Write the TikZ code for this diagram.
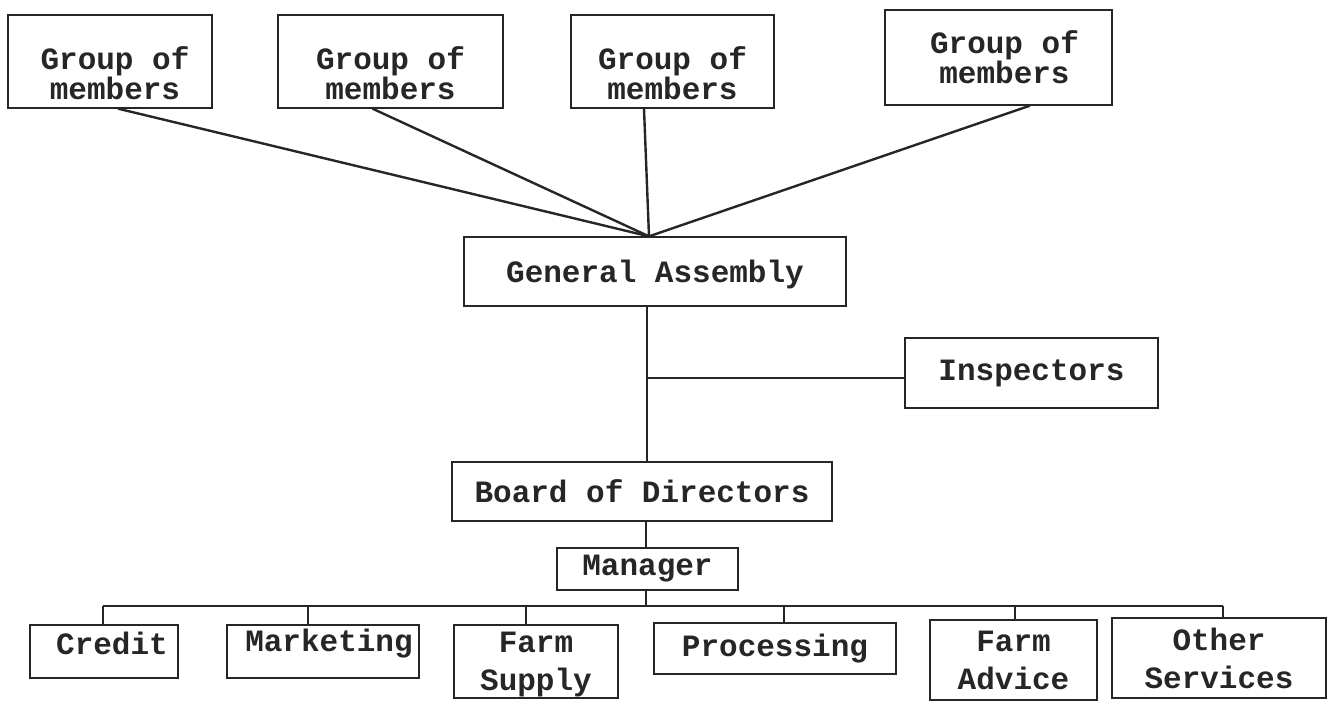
\documentclass[tikz,border=0pt]{standalone}
\usepackage{fontspec}
\setmonofont{Liberation Mono}
\usetikzlibrary{calc}
\begin{document}
\begin{tikzpicture}[x=1pt,y=-1pt,
  box/.style={draw=black!85, line width=1.3pt, inner sep=0pt},
  txt/.style={inner sep=0pt, align=center, text=black!85,
    font=\ttfamily\bfseries\fontsize{31}{27}\selectfont},
  txtwide/.style={txt, font=\ttfamily\bfseries\fontsize{31}{30}\selectfont},
  txtlow/.style={txt, font=\ttfamily\bfseries\fontsize{31}{38}\selectfont},
  fan/.style={draw=black!85, line width=2.4pt},
  link/.style={draw=black!85, line width=1.3pt}]
\useasboundingbox (0,0) rectangle (1342,709);
\fill[white] (0,0) rectangle (1342,709);

% members' groups
\node[box, minimum width=204pt, minimum height=93pt] (g1) at (110,61.5) {};
\node[box, minimum width=225pt, minimum height=93pt] (g2) at (390.5,61.5) {};
\node[box, minimum width=203pt, minimum height=93pt] (g3) at (672.5,61.5) {};
\node[box, minimum width=227pt, minimum height=95pt] (g4) at (998.5,57.5) {};
\node[txt] (g1t) at ([xshift=5pt,yshift=-12pt]g1.center) {Group of\\members};
\node[txt] (g2t) at ([yshift=-12pt]g2.center) {Group of\\members};
\node[txt] (g3t) at ([yshift=-12pt]g3.center) {Group of\\members};
\node[txtwide] (g4t) at ([xshift=6pt]g4.center) {Group of\\members};

% governing bodies
\node[box, minimum width=382pt, minimum height=69pt] (ga) at (655,271.5) {};
\node[txt] (gat) at ([yshift=-3pt]ga.center) {General Assembly};
\node[box, minimum width=253pt, minimum height=70pt] (insp) at (1031.5,373) {};
\node[txt] (inspt) at (insp.center) {Inspectors};
\node[box, minimum width=380pt, minimum height=59pt] (bod) at (642,491.5) {};
\node[txt] (bodt) at (bod.center) {Board of Directors};
\node[box, minimum width=181pt, minimum height=42pt] (mgr) at (647.5,569) {};
\node[txt] (mgrt) at (mgr.center) {Manager};

% services
\node[box, minimum width=148pt, minimum height=53pt] (cred) at (104,651.5) {};
\node[txt] (credt) at ([xshift=8pt,yshift=8pt]cred.center) {Credit};
\node[box, minimum width=192pt, minimum height=53pt] (mkt) at (323,651.5) {};
\node[txt] (mktt) at ([xshift=6pt,yshift=8pt]mkt.center) {Marketing};
\node[box, minimum width=164pt, minimum height=73pt] (sup) at (536,661.5) {};
\node[txtlow] (supt) at ([yshift=-3pt]sup.center) {Farm\\Supply};
\node[box, minimum width=242pt, minimum height=51pt] (proc) at (775,648.5) {};
\node[txt] (proct) at (proc.center) {Processing};
\node[box, minimum width=167pt, minimum height=80pt] (adv) at (1013.5,660) {};
\node[txtlow] (advt) at (adv.center) {Farm\\Advice};
\node[box, minimum width=214pt, minimum height=80pt] (oth) at (1219,658) {};
\node[txtlow] (otht) at (oth.center) {Other\\Services};

% groups meet at the assembly
\coordinate (hub) at ([xshift=-6pt]ga.north);
\draw[fan] ([xshift=8pt]g1.south) -- (hub);
\draw[fan] ([xshift=-18pt]g2.south) -- (hub);
\draw[fan] ([xshift=-28.5pt]g3.south) -- (hub);
\draw[fan] ([xshift=31.5pt]g4.south) -- (hub);

% chain of command
\coordinate (gaS) at ([xshift=-8pt]ga.south);
\draw[fan] (gaS) -- (gaS |- bod.north);
\path ([yshift=-5pt]insp.west) coordinate (iw);
\draw[link] (iw) -- (iw -| gaS);
\coordinate (bodS) at ([xshift=4pt]bod.south);
\draw[link] (bodS) -- (bodS |- mgr.north);

% distribution bus to services
\coordinate (busL) at (103,606);
\coordinate (busR) at (1223,606);
\draw[link] (busL) -- (busR);
\coordinate (mgrS) at ([xshift=-1.5pt]mgr.south);
\draw[link] (mgrS) -- (mgrS |- busL);
\draw[link] (busL) -- (busL |- cred.north);
\draw[link] (mkt.north) ++(-15,0) coordinate (mktN) -- (mktN |- busL);
\draw[link] (sup.north) ++(-10,0) coordinate (supN) -- (supN |- busL);
\draw[link] (proc.north) ++(9,0) coordinate (procN) -- (procN |- busL);
\draw[link] (adv.north) ++(1.5,0) coordinate (advN) -- (advN |- busL);
\draw[link] (busR) -- (busR |- oth.north);
\end{tikzpicture}
\end{document}
